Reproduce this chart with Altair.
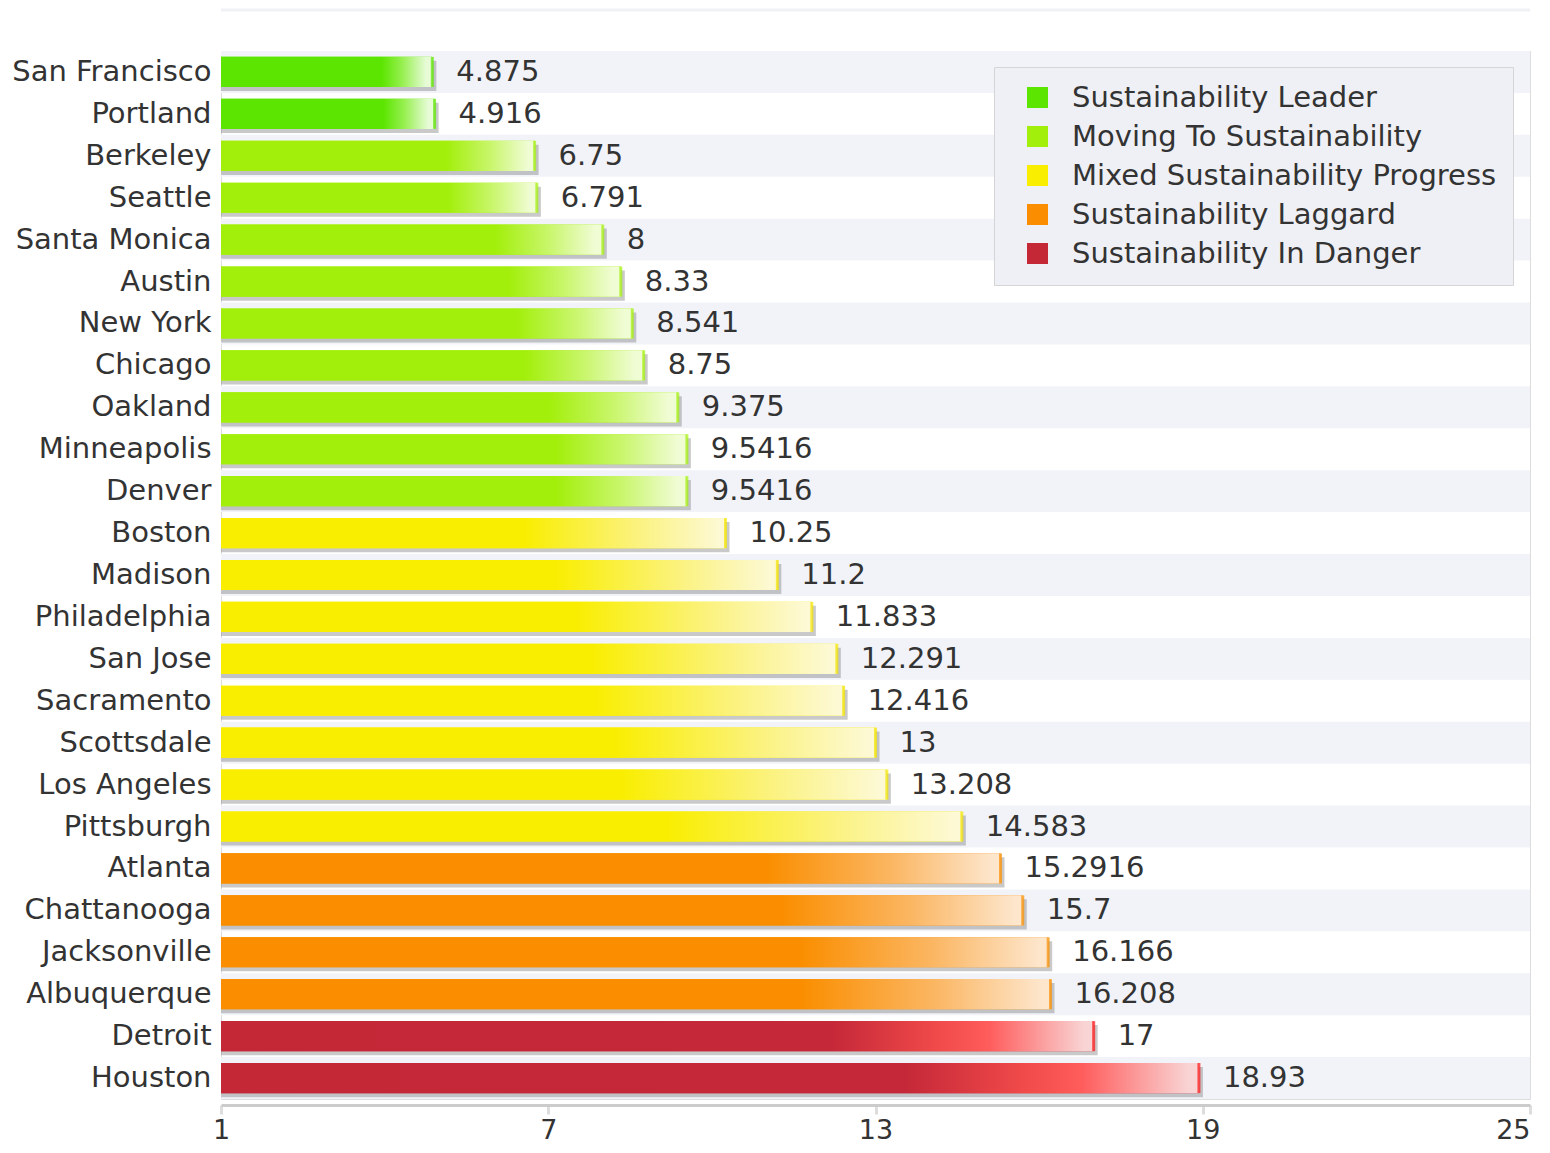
import altair as alt
import pandas as pd

cities = ["San Francisco", "Portland", "Berkeley", "Seattle", "Santa Monica", "Austin",
          "New York", "Chicago", "Oakland", "Minneapolis", "Denver", "Boston", "Madison",
          "Philadelphia", "San Jose", "Sacramento", "Scottsdale", "Los Angeles", "Pittsburgh",
          "Atlanta", "Chattanooga", "Jacksonville", "Albuquerque", "Detroit", "Houston"]
values = [4.875, 4.916, 6.75, 6.791, 8, 8.33, 8.541, 8.75, 9.375, 9.5416, 9.5416, 10.25, 11.2,
          11.833, 12.291, 12.416, 13, 13.208, 14.583, 15.2916, 15.7, 16.166, 16.208, 17, 18.93]
labels = ["4.875", "4.916", "6.75", "6.791", "8", "8.33", "8.541", "8.75", "9.375", "9.5416",
          "9.5416", "10.25", "11.2", "11.833", "12.291", "12.416", "13", "13.208", "14.583",
          "15.2916", "15.7", "16.166", "16.208", "17", "18.93"]
categories = ["Sustainability Leader"] * 2 + ["Moving To Sustainability"] * 9 + \
             ["Mixed Sustainability Progress"] * 8 + ["Sustainability Laggard"] * 4 + \
             ["Sustainability In Danger"] * 2
cat_order = ["Sustainability Leader", "Moving To Sustainability", "Mixed Sustainability Progress",
             "Sustainability Laggard", "Sustainability In Danger"]
cat_colors = ["#5ce500", "#a3ef0c", "#f9ee00", "#fa8e00", "#c42837"]
edge_colors = ["#5ce500", "#a3ef0c", "#f2e400", "#fa8e00", "#ff1414"]
gradients = [
    [(0, "#5ce500"), (0.76, "#5ce500"), (0.86, "#98f052"), (0.97, "#e6fbd6"), (1, "#e6fbd6")],
    [(0, "#a3ef0c"), (0.72, "#a3ef0c"), (0.86, "#c9f66c"), (0.98, "#f0fcd4"), (1, "#f0fcd4")],
    [(0, "#f9ee00"), (0.6, "#f9ee00"), (0.82, "#fbf27c"), (0.99, "#fdf9d4"), (1, "#fdf9d4")],
    [(0, "#fa8e00"), (0.7, "#fa8e00"), (0.86, "#fbb662"), (0.99, "#fde6cc"), (1, "#fde6cc")],
    [(0, "#c42837"), (0.7, "#c52838"), (0.82, "#f04a4a"), (0.88, "#ff5c5c"), (0.99, "#f9d4d4"), (1, "#f9d4d4")],
]
x_ticks = [1, 7, 13, 19, 25]

W = 1309
H = 1048

df = pd.DataFrame({"city": cities, "value": values, "label": labels, "cat": categories,
                   "base": [1] * len(cities), "idx": list(range(len(cities)))})

yenc = alt.Y("city:N", sort=cities, scale=alt.Scale(paddingInner=0, paddingOuter=0),
             axis=alt.Axis(title=None, domain=False, ticks=False, labelFontSize=29,
                           labelFont="DejaVu Sans", labelColor="#333333", labelPadding=10,
                           minExtent=213, maxExtent=213, labelLimit=400))
xscale = alt.Scale(domain=[1, 25], nice=False, zero=False)
xenc = alt.X("value:Q", scale=xscale,
             axis=alt.Axis(title=None, values=x_ticks, grid=False, labelFontSize=27,
                           labelFont="DejaVu Sans", labelColor="#333333", domainColor="#cccccc",
                           domainWidth=3, tickColor="#dddddd", tickWidth=3, tickSize=9,
                           labelPadding=3, offset=6, format="d", labelFlush=False,
                           labelAlign={"condition": {"test": "datum.value == 25", "value": "right"},
                                       "value": "center"}))

base = alt.Chart(df)

bands = base.transform_filter("datum.idx % 2 == 0").mark_rect(color="#f2f3f8").encode(
    y=alt.Y("city:N", sort=cities), x=alt.value(0), x2=alt.value(W))

shadow = base.mark_bar(height=alt.RelativeBandSize(0.72), color="#777777", opacity=0.4,
                       xOffset=4, yOffset=4).encode(x=xenc, x2="base:Q", y=yenc)

solid = base.mark_bar(height=alt.RelativeBandSize(0.72)).encode(
    x=xenc, x2="base:Q", y=yenc,
    color=alt.Color("cat:N", scale=alt.Scale(domain=cat_order, range=cat_colors),
                    legend=alt.Legend(title=None, orient="none", legendX=773, legendY=16,
                                      fillColor="#eff0f5", strokeColor="#d5d5d5",
                                      padding=16, labelFontSize=29, labelFont="DejaVu Sans",
                                      labelColor="#333333", symbolType="square",
                                      symbolSize=440, symbolStrokeWidth=0, rowPadding=9,
                                      labelOffset=20, symbolOffset=13, labelLimit=700)))

layers = [bands, shadow, solid]
for c, g, e in zip(cat_order, gradients, edge_colors):
    sub = base.transform_filter(alt.datum.cat == c)
    grad = alt.Gradient(gradient="linear", x1=0, x2=1, y1=0, y2=0,
                        stops=[alt.GradientStop(offset=o, color=col) for o, col in g])
    layers.append(sub.mark_bar(height=alt.RelativeBandSize(0.72), color=grad).encode(
        x=xenc, x2="base:Q", y=yenc))
    layers.append(sub.mark_tick(size=30, thickness=3, color=e).encode(x=xenc, y=yenc))

text = base.mark_text(align="left", baseline="middle", dx=24, fontSize=29,
                      font="DejaVu Sans", color="#333333").encode(x=xenc, y=yenc, text="label:N")
layers.append(text)

top = alt.Chart(pd.DataFrame({"a": [0]})).mark_rule(color="#f0f1f5", strokeWidth=3).encode(
    x=alt.value(0), x2=alt.value(W), y=alt.value(-41))
layers.append(top)

chart = alt.layer(*layers).properties(
    width=W, height=H, padding={"left": 0, "right": 0, "top": 0, "bottom": 0}
).configure_view(stroke=None).configure(background="white")

chart.save("out.html", embed_options={"renderer": "svg", "actions": False})
